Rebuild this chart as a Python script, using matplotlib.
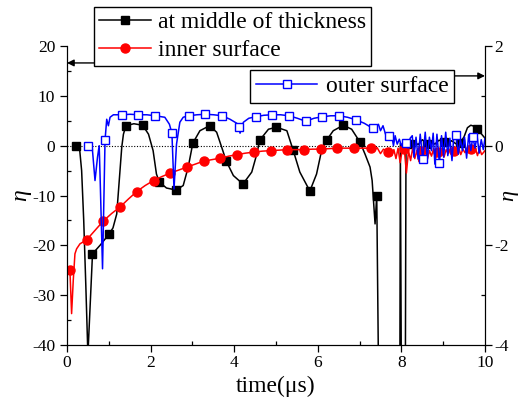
import numpy as np
import matplotlib
matplotlib.use('Agg')
import matplotlib.pyplot as plt
from matplotlib.ticker import MultipleLocator

plt.rcParams['font.family'] = ['Liberation Serif', 'DejaVu Serif']
plt.rcParams['axes.unicode_minus'] = False

# --- at middle of thickness (left axis) ---
t_mid = [0.21, 0.30, 0.35, 0.40, 0.45, 0.50, 0.61, 0.80, 1.01, 1.10, 1.19, 1.25, 1.31, 1.35,
         1.41, 1.60, 1.81, 1.95, 2.06, 2.14, 2.21, 2.38, 2.61, 2.78, 2.90, 3.01, 3.18, 3.41,
         3.58, 3.70, 3.81, 3.98, 4.21, 4.42, 4.54, 4.61, 4.82, 5.01, 5.26, 5.41, 5.57, 5.81,
         5.97, 6.09, 6.21, 6.37, 6.61, 6.81, 7.01, 7.13, 7.25, 7.30, 7.37, 7.41, 7.47, 7.81,
         7.96, 7.975, 8.005, 8.09, 8.11, 8.16, 8.21, 8.30, 8.40, 8.50, 8.61, 8.70, 8.80, 8.90,
         9.01, 9.10, 9.20, 9.30, 9.41, 9.50, 9.58, 9.66, 9.74, 9.81, 9.90, 10.0]
eta_mid = [0, -0.5, -5, -15, -28, -42, -21.7, -19.9, -17.7, -16.5, -13.7, -7, -0.3, 2.3,
           4.0, 4.4, 4.1, 2.3, -1, -5.7, -7.3, -8.5, -8.9, -8, -4.3, 0.5, 3, 4.0,
           2.7, -0.3, -3.1, -6, -7.7, -5.3, -1.7, 1.1, 3.3, 3.7, 3, -0.9, -5.3, -9.1,
           -5.7, -1, 1.1, 3, 4.1, 3.3, 0.7, -1.7, -4.3, -7, -15.7, -10, -60, -60,
           -60, 0.5, -60, -60, 0.3, 0.6, 0.3, 0.8, 0.2, 1.2, 0.4, 1.0, 0.3, 1.1,
           0.8, 0.2, 1.0, 0.4, 0.6, 1.8, 3.6, 4.1, 3.9, 3.3, 2.5, 1.5]
mk_mid = [0.21, 0.61, 1.01, 1.41, 1.81, 2.21, 2.61, 3.01, 3.41, 3.81, 4.21, 4.61, 5.01,
          5.41, 5.81, 6.21, 6.61, 7.01, 7.41, 7.81, 8.21, 8.61, 9.01, 9.41, 9.81]

# --- inner surface (left axis) ---
t_in = [0.07, 0.11, 0.15, 0.19, 0.23, 0.31, 0.47, 0.67, 0.87, 1.07, 1.27, 1.47, 1.67, 1.87,
        2.07, 2.27, 2.47, 2.67, 2.87, 3.07, 3.27, 3.47, 3.67, 3.87, 4.07, 4.27, 4.47, 4.67,
        4.87, 5.07, 5.27, 5.47, 5.67, 5.87, 6.07, 6.27, 6.47, 6.67, 6.87, 7.07, 7.27, 7.35,
        7.42, 7.50, 7.57, 7.67, 7.72, 7.77, 7.82, 7.87, 7.92, 7.97, 8.02, 8.07, 8.12, 8.17,
        8.22, 8.27, 8.32, 8.37, 8.42, 8.47, 8.52, 8.57, 8.62, 8.67, 8.72, 8.77, 8.82, 8.87,
        8.92, 8.97, 9.02, 9.07, 9.12, 9.17, 9.22, 9.27, 9.32, 9.37, 9.42, 9.47, 9.52, 9.57,
        9.62, 9.67, 9.72, 9.77, 9.82, 9.87, 9.92, 10.0]
eta_in = [-25, -33.7, -27, -21.7, -20.7, -19.7, -18.9, -17, -15.1, -13.6, -12.3, -10.7, -9.2, -8.0,
          -7.0, -6.2, -5.5, -4.9, -4.3, -3.7, -3.1, -2.8, -2.5, -2.1, -1.8, -1.5, -1.3, -1.1,
          -1.0, -0.9, -0.8, -0.8, -0.8, -0.7, -0.7, -0.6, -0.5, -0.5, -0.5, -0.5, -0.5, -0.9,
          -0.4, -1.6, -0.7, -1.2, -0.6, -2.0, -0.8, -2.6, -0.5, -3.4, -0.9, -0.7, -5.5, -1.0,
          -3.0, -0.5, -2.6, -1.0, -3.2, -1.0, -2.0, -0.4, -2.8, -1.0, -2.1, -0.6, -2.6, -1.2,
          -1.8, -0.5, -2.3, -0.8, -1.6, -0.6, -2.0, -1.0, -1.5, -0.4, -1.8, -0.7, -1.4, -0.5,
          -1.2, -0.7, -1.5, -0.5, -2.0, -0.6, -1.8, -1.0]
mk_in = [0.07, 0.47, 0.87, 1.27, 1.67, 2.07, 2.47, 2.87, 3.27, 3.67, 4.07, 4.47, 4.87,
         5.27, 5.67, 6.07, 6.47, 6.87, 7.27, 7.67, 8.07, 8.47, 8.87, 9.27, 9.67]

# --- outer surface (right axis) ---
t_out = [0.51, 0.60, 0.67, 0.73, 0.77, 0.79, 0.85, 0.91, 0.95, 0.99, 1.03, 1.11, 1.31, 1.51,
         1.71, 1.91, 2.11, 2.34, 2.45, 2.51, 2.56, 2.62, 2.70, 2.78, 2.91, 3.11, 3.31, 3.51,
         3.71, 3.90, 4.06, 4.11, 4.14, 4.22, 4.35, 4.51, 4.71, 4.91, 5.11, 5.31, 5.51, 5.71,
         5.91, 6.11, 6.31, 6.51, 6.71, 6.91, 7.11, 7.31, 7.40, 7.45, 7.50, 7.56, 7.62, 7.71,
         7.77, 7.81, 7.85, 7.90, 7.95, 8.00, 8.06, 8.11, 8.16, 8.21, 8.26, 8.30, 8.35, 8.40,
         8.45, 8.51, 8.57, 8.62, 8.67, 8.72, 8.76, 8.80, 8.85, 8.91, 8.96, 9.01, 9.06, 9.11,
         9.16, 9.21, 9.26, 9.31, 9.36, 9.41, 9.46, 9.51, 9.56, 9.61, 9.66, 9.71, 9.76, 9.81,
         9.86, 9.91, 9.96, 10.0]
eta_out = [0, 0, -0.7, -0.23, 0, -0.57, -2.47, 0.11, 0.53, 0.4, 0.57, 0.62, 0.62, 0.63,
           0.62, 0.62, 0.6, 0.57, 0.43, 0.25, -0.87, 0.03, 0.47, 0.57, 0.6, 0.62, 0.63, 0.62,
           0.6, 0.53, 0.45, 0.37, 0.25, 0.47, 0.55, 0.58, 0.61, 0.62, 0.62, 0.6, 0.55, 0.49,
           0.55, 0.58, 0.6, 0.6, 0.57, 0.52, 0.45, 0.35, 0.38, 0.43, 0.3, 0.4, 0.23, 0.19,
           0.2, 0.0, 0.2, 0.03, 0.13, 0.0, 0.1, 0.05, -0.05, 0.15, 0.2, -0.23, 0.17, -0.27,
           0.23, -0.27, 0.27, -0.27, 0.17, -0.1, 0.25, -0.37, 0.23, -0.35, 0.2, -0.23, 0.27, -0.2,
           0.15, -0.3, 0.25, 0.21, -0.17, 0.13, -0.1, 0.17, -0.25, 0.22, -0.1, 0.18, -0.05, 0.2,
           -0.15, 0.12, -0.08, 0.15]
mk_out = [0.51, 0.91, 1.31, 1.71, 2.11, 2.51, 2.91, 3.31, 3.71, 4.11, 4.51, 4.91, 5.31,
          5.71, 6.11, 6.51, 6.91, 7.31, 7.71, 8.11, 8.51, 8.91, 9.31, 9.71]


def mark_idx(t, marks):
    t = np.round(np.array(t), 3)
    return [int(np.where(t == round(m, 3))[0][0]) for m in marks]


fig = plt.figure(figsize=(5.24, 4.05), dpi=100)
ax = fig.add_axes([67 / 524, 60 / 405, 418 / 524, 299 / 405])
ax2 = ax.twinx()

ax.axhline(0, color='k', ls=(0, (1, 1.5)), lw=0.8)

l_mid, = ax.plot(t_mid, eta_mid, color='k', lw=1.1, marker='s', ms=6,
                 markevery=mark_idx(t_mid, mk_mid), label='at middle of thickness')
l_in, = ax.plot(t_in, eta_in, color='red', lw=1.1, marker='o', ms=6.5,
                markevery=mark_idx(t_in, mk_in), label='inner surface')
l_out, = ax2.plot(t_out, eta_out, color='blue', lw=1.1, marker='s', ms=6, mfc='white',
                  mec='blue', mew=1.0, markevery=mark_idx(t_out, mk_out), label='outer surface')

ax.set_xlim(0, 10)
ax.set_ylim(-40, 20)
ax2.set_ylim(-4, 2)

ax.xaxis.set_major_locator(MultipleLocator(2))
ax.xaxis.set_minor_locator(MultipleLocator(1))
ax.yaxis.set_major_locator(MultipleLocator(10))
ax.yaxis.set_minor_locator(MultipleLocator(5))
ax2.yaxis.set_major_locator(MultipleLocator(2))
ax2.yaxis.set_minor_locator(MultipleLocator(1))

for a in (ax, ax2):
    a.spines['top'].set_visible(False)
    a.tick_params(which='major', direction='out', length=5, width=0.9, labelsize=12.5)
    a.tick_params(which='minor', direction='in', length=3, width=0.9)
ax.tick_params(axis='x', pad=2)
ax2.tick_params(axis='y', pad=2)

ax.set_xlabel('time(μs)', fontsize=17, labelpad=4)
ax.set_ylabel('η', fontsize=17, fontstyle='italic', labelpad=1)
ax2.set_ylabel('η', fontsize=16, fontstyle='italic', labelpad=-7)

leg1 = ax2.legend(handles=[l_mid, l_in], loc='upper left', bbox_to_anchor=(94 / 524, 1 - 7 / 405),
                  bbox_transform=fig.transFigure, fontsize=17, frameon=True, fancybox=False,
                  edgecolor='k', framealpha=1, handlelength=2.2, handletextpad=0.3,
                  borderpad=0.2, labelspacing=0.28, borderaxespad=0)
leg1.get_frame().set_linewidth(1.0)
ax2.add_artist(leg1)
leg2 = ax2.legend(handles=[l_out], loc='upper left', bbox_to_anchor=(250 / 524, 1 - 70 / 405),
                  bbox_transform=fig.transFigure, fontsize=17, frameon=True, fancybox=False,
                  edgecolor='k', framealpha=1, handlelength=2.6, handletextpad=0.35,
                  borderpad=0.25, borderaxespad=0)
leg2.get_frame().set_linewidth(1.0)

arrow = dict(arrowstyle='-|>', color='k', lw=1.0, shrinkA=0, shrinkB=0, mutation_scale=10)
ax.annotate('', xy=(0, 16.6), xytext=(0.65, 16.6), arrowprops=arrow, annotation_clip=False)
ax.annotate('', xy=(10, 14), xytext=(9.28, 14), arrowprops=arrow, annotation_clip=False)

fig.savefig('out.png', dpi=100)
